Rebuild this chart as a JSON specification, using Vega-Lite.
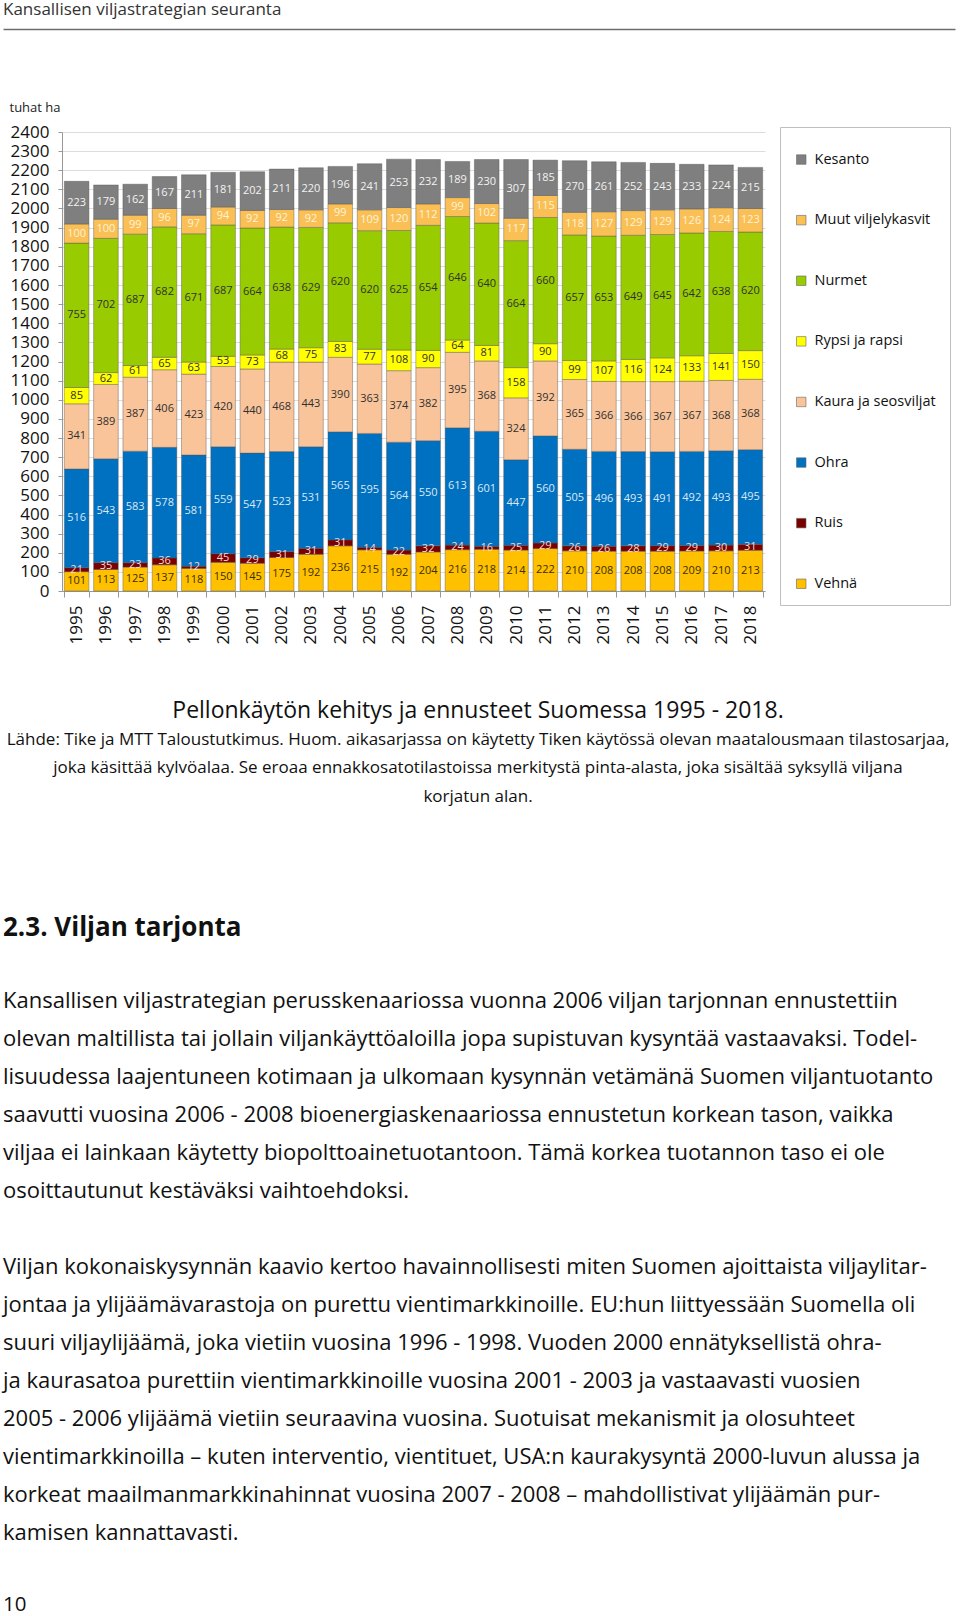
{
  "$schema": "https://vega.github.io/schema/vega-lite/v6.json",
  "background": "#ffffff",
  "padding": {"left": 3, "top": 0, "right": 0, "bottom": 0},
  "autosize": {"type": "pad"},
  "bounds": "flush",
  "spacing": 0,
  "config": {
    "view": {"stroke": null},
    "font": "Open Sans"
  },
  "datasets": {
    "crops": [
      {"year":"1995","crop":"Vehnä","area":101},{"year":"1996","crop":"Vehnä","area":113},{"year":"1997","crop":"Vehnä","area":125},{"year":"1998","crop":"Vehnä","area":137},{"year":"1999","crop":"Vehnä","area":118},{"year":"2000","crop":"Vehnä","area":150},{"year":"2001","crop":"Vehnä","area":145},{"year":"2002","crop":"Vehnä","area":175},{"year":"2003","crop":"Vehnä","area":192},{"year":"2004","crop":"Vehnä","area":236},{"year":"2005","crop":"Vehnä","area":215},{"year":"2006","crop":"Vehnä","area":192},{"year":"2007","crop":"Vehnä","area":204},{"year":"2008","crop":"Vehnä","area":216},{"year":"2009","crop":"Vehnä","area":218},{"year":"2010","crop":"Vehnä","area":214},{"year":"2011","crop":"Vehnä","area":222},{"year":"2012","crop":"Vehnä","area":210},{"year":"2013","crop":"Vehnä","area":208},{"year":"2014","crop":"Vehnä","area":208},{"year":"2015","crop":"Vehnä","area":208},{"year":"2016","crop":"Vehnä","area":209},{"year":"2017","crop":"Vehnä","area":210},{"year":"2018","crop":"Vehnä","area":213},
      {"year":"1995","crop":"Ruis","area":21},{"year":"1996","crop":"Ruis","area":35},{"year":"1997","crop":"Ruis","area":23},{"year":"1998","crop":"Ruis","area":36},{"year":"1999","crop":"Ruis","area":12},{"year":"2000","crop":"Ruis","area":45},{"year":"2001","crop":"Ruis","area":29},{"year":"2002","crop":"Ruis","area":31},{"year":"2003","crop":"Ruis","area":31},{"year":"2004","crop":"Ruis","area":31},{"year":"2005","crop":"Ruis","area":14},{"year":"2006","crop":"Ruis","area":22},{"year":"2007","crop":"Ruis","area":32},{"year":"2008","crop":"Ruis","area":24},{"year":"2009","crop":"Ruis","area":16},{"year":"2010","crop":"Ruis","area":25},{"year":"2011","crop":"Ruis","area":29},{"year":"2012","crop":"Ruis","area":26},{"year":"2013","crop":"Ruis","area":26},{"year":"2014","crop":"Ruis","area":28},{"year":"2015","crop":"Ruis","area":29},{"year":"2016","crop":"Ruis","area":29},{"year":"2017","crop":"Ruis","area":30},{"year":"2018","crop":"Ruis","area":31},
      {"year":"1995","crop":"Ohra","area":516},{"year":"1996","crop":"Ohra","area":543},{"year":"1997","crop":"Ohra","area":583},{"year":"1998","crop":"Ohra","area":578},{"year":"1999","crop":"Ohra","area":581},{"year":"2000","crop":"Ohra","area":559},{"year":"2001","crop":"Ohra","area":547},{"year":"2002","crop":"Ohra","area":523},{"year":"2003","crop":"Ohra","area":531},{"year":"2004","crop":"Ohra","area":565},{"year":"2005","crop":"Ohra","area":595},{"year":"2006","crop":"Ohra","area":564},{"year":"2007","crop":"Ohra","area":550},{"year":"2008","crop":"Ohra","area":613},{"year":"2009","crop":"Ohra","area":601},{"year":"2010","crop":"Ohra","area":447},{"year":"2011","crop":"Ohra","area":560},{"year":"2012","crop":"Ohra","area":505},{"year":"2013","crop":"Ohra","area":496},{"year":"2014","crop":"Ohra","area":493},{"year":"2015","crop":"Ohra","area":491},{"year":"2016","crop":"Ohra","area":492},{"year":"2017","crop":"Ohra","area":493},{"year":"2018","crop":"Ohra","area":495},
      {"year":"1995","crop":"Kaura ja seosviljat","area":341},{"year":"1996","crop":"Kaura ja seosviljat","area":389},{"year":"1997","crop":"Kaura ja seosviljat","area":387},{"year":"1998","crop":"Kaura ja seosviljat","area":406},{"year":"1999","crop":"Kaura ja seosviljat","area":423},{"year":"2000","crop":"Kaura ja seosviljat","area":420},{"year":"2001","crop":"Kaura ja seosviljat","area":440},{"year":"2002","crop":"Kaura ja seosviljat","area":468},{"year":"2003","crop":"Kaura ja seosviljat","area":443},{"year":"2004","crop":"Kaura ja seosviljat","area":390},{"year":"2005","crop":"Kaura ja seosviljat","area":363},{"year":"2006","crop":"Kaura ja seosviljat","area":374},{"year":"2007","crop":"Kaura ja seosviljat","area":382},{"year":"2008","crop":"Kaura ja seosviljat","area":395},{"year":"2009","crop":"Kaura ja seosviljat","area":368},{"year":"2010","crop":"Kaura ja seosviljat","area":324},{"year":"2011","crop":"Kaura ja seosviljat","area":392},{"year":"2012","crop":"Kaura ja seosviljat","area":365},{"year":"2013","crop":"Kaura ja seosviljat","area":366},{"year":"2014","crop":"Kaura ja seosviljat","area":366},{"year":"2015","crop":"Kaura ja seosviljat","area":367},{"year":"2016","crop":"Kaura ja seosviljat","area":367},{"year":"2017","crop":"Kaura ja seosviljat","area":368},{"year":"2018","crop":"Kaura ja seosviljat","area":368},
      {"year":"1995","crop":"Rypsi ja rapsi","area":85},{"year":"1996","crop":"Rypsi ja rapsi","area":62},{"year":"1997","crop":"Rypsi ja rapsi","area":61},{"year":"1998","crop":"Rypsi ja rapsi","area":65},{"year":"1999","crop":"Rypsi ja rapsi","area":63},{"year":"2000","crop":"Rypsi ja rapsi","area":53},{"year":"2001","crop":"Rypsi ja rapsi","area":73},{"year":"2002","crop":"Rypsi ja rapsi","area":68},{"year":"2003","crop":"Rypsi ja rapsi","area":75},{"year":"2004","crop":"Rypsi ja rapsi","area":83},{"year":"2005","crop":"Rypsi ja rapsi","area":77},{"year":"2006","crop":"Rypsi ja rapsi","area":108},{"year":"2007","crop":"Rypsi ja rapsi","area":90},{"year":"2008","crop":"Rypsi ja rapsi","area":64},{"year":"2009","crop":"Rypsi ja rapsi","area":81},{"year":"2010","crop":"Rypsi ja rapsi","area":158},{"year":"2011","crop":"Rypsi ja rapsi","area":90},{"year":"2012","crop":"Rypsi ja rapsi","area":99},{"year":"2013","crop":"Rypsi ja rapsi","area":107},{"year":"2014","crop":"Rypsi ja rapsi","area":116},{"year":"2015","crop":"Rypsi ja rapsi","area":124},{"year":"2016","crop":"Rypsi ja rapsi","area":133},{"year":"2017","crop":"Rypsi ja rapsi","area":141},{"year":"2018","crop":"Rypsi ja rapsi","area":150},
      {"year":"1995","crop":"Nurmet","area":755},{"year":"1996","crop":"Nurmet","area":702},{"year":"1997","crop":"Nurmet","area":687},{"year":"1998","crop":"Nurmet","area":682},{"year":"1999","crop":"Nurmet","area":671},{"year":"2000","crop":"Nurmet","area":687},{"year":"2001","crop":"Nurmet","area":664},{"year":"2002","crop":"Nurmet","area":638},{"year":"2003","crop":"Nurmet","area":629},{"year":"2004","crop":"Nurmet","area":620},{"year":"2005","crop":"Nurmet","area":620},{"year":"2006","crop":"Nurmet","area":625},{"year":"2007","crop":"Nurmet","area":654},{"year":"2008","crop":"Nurmet","area":646},{"year":"2009","crop":"Nurmet","area":640},{"year":"2010","crop":"Nurmet","area":664},{"year":"2011","crop":"Nurmet","area":660},{"year":"2012","crop":"Nurmet","area":657},{"year":"2013","crop":"Nurmet","area":653},{"year":"2014","crop":"Nurmet","area":649},{"year":"2015","crop":"Nurmet","area":645},{"year":"2016","crop":"Nurmet","area":642},{"year":"2017","crop":"Nurmet","area":638},{"year":"2018","crop":"Nurmet","area":620},
      {"year":"1995","crop":"Muut viljelykasvit","area":100},{"year":"1996","crop":"Muut viljelykasvit","area":100},{"year":"1997","crop":"Muut viljelykasvit","area":99},{"year":"1998","crop":"Muut viljelykasvit","area":96},{"year":"1999","crop":"Muut viljelykasvit","area":97},{"year":"2000","crop":"Muut viljelykasvit","area":94},{"year":"2001","crop":"Muut viljelykasvit","area":92},{"year":"2002","crop":"Muut viljelykasvit","area":92},{"year":"2003","crop":"Muut viljelykasvit","area":92},{"year":"2004","crop":"Muut viljelykasvit","area":99},{"year":"2005","crop":"Muut viljelykasvit","area":109},{"year":"2006","crop":"Muut viljelykasvit","area":120},{"year":"2007","crop":"Muut viljelykasvit","area":112},{"year":"2008","crop":"Muut viljelykasvit","area":99},{"year":"2009","crop":"Muut viljelykasvit","area":102},{"year":"2010","crop":"Muut viljelykasvit","area":117},{"year":"2011","crop":"Muut viljelykasvit","area":115},{"year":"2012","crop":"Muut viljelykasvit","area":118},{"year":"2013","crop":"Muut viljelykasvit","area":127},{"year":"2014","crop":"Muut viljelykasvit","area":129},{"year":"2015","crop":"Muut viljelykasvit","area":129},{"year":"2016","crop":"Muut viljelykasvit","area":126},{"year":"2017","crop":"Muut viljelykasvit","area":124},{"year":"2018","crop":"Muut viljelykasvit","area":123},
      {"year":"1995","crop":"Kesanto","area":223},{"year":"1996","crop":"Kesanto","area":179},{"year":"1997","crop":"Kesanto","area":162},{"year":"1998","crop":"Kesanto","area":167},{"year":"1999","crop":"Kesanto","area":211},{"year":"2000","crop":"Kesanto","area":181},{"year":"2001","crop":"Kesanto","area":202},{"year":"2002","crop":"Kesanto","area":211},{"year":"2003","crop":"Kesanto","area":220},{"year":"2004","crop":"Kesanto","area":196},{"year":"2005","crop":"Kesanto","area":241},{"year":"2006","crop":"Kesanto","area":253},{"year":"2007","crop":"Kesanto","area":232},{"year":"2008","crop":"Kesanto","area":189},{"year":"2009","crop":"Kesanto","area":230},{"year":"2010","crop":"Kesanto","area":307},{"year":"2011","crop":"Kesanto","area":185},{"year":"2012","crop":"Kesanto","area":270},{"year":"2013","crop":"Kesanto","area":261},{"year":"2014","crop":"Kesanto","area":252},{"year":"2015","crop":"Kesanto","area":243},{"year":"2016","crop":"Kesanto","area":233},{"year":"2017","crop":"Kesanto","area":224},{"year":"2018","crop":"Kesanto","area":215}
    ],
    "header": [{"text": "Kansallisen viljastrategian seuranta"}],
    "caption": [
      {"line": 1, "text": "Pellonkäytön kehitys ja ennusteet Suomessa 1995 - 2018."},
      {"line": 2, "text": "Lähde: Tike ja MTT Taloustutkimus. Huom. aikasarjassa on käytetty Tiken käytössä olevan maatalousmaan tilastosarjaa,"},
      {"line": 3, "text": "joka käsittää kylvöalaa. Se eroaa ennakkosatotilastoissa merkitystä pinta-alasta, joka sisältää syksyllä viljana"},
      {"line": 4, "text": "korjatun alan."}
    ],
    "heading": [{"text": "2.3. Viljan tarjonta"}],
    "para1": [
      {"line": 1, "text": "Kansallisen viljastrategian perusskenaariossa vuonna 2006 viljan tarjonnan ennustettiin"},
      {"line": 2, "text": "olevan maltillista tai jollain viljankäyttöaloilla jopa supistuvan kysyntää vastaavaksi. Todel-"},
      {"line": 3, "text": "lisuudessa laajentuneen kotimaan ja ulkomaan kysynnän vetämänä Suomen viljantuotanto"},
      {"line": 4, "text": "saavutti vuosina 2006 - 2008 bioenergiaskenaariossa ennustetun korkean tason, vaikka"},
      {"line": 5, "text": "viljaa ei lainkaan käytetty biopolttoainetuotantoon. Tämä korkea tuotannon taso ei ole"},
      {"line": 6, "text": "osoittautunut kestäväksi vaihtoehdoksi."}
    ],
    "para2": [
      {"line": 1, "text": "Viljan kokonaiskysynnän kaavio kertoo havainnollisesti miten Suomen ajoittaista viljaylitar-"},
      {"line": 2, "text": "jontaa ja ylijäämävarastoja on purettu vientimarkkinoille. EU:hun liittyessään Suomella oli"},
      {"line": 3, "text": "suuri viljaylijäämä, joka vietiin vuosina 1996 - 1998. Vuoden 2000 ennätyksellistä ohra-"},
      {"line": 4, "text": "ja kaurasatoa purettiin vientimarkkinoille vuosina 2001 - 2003 ja vastaavasti vuosien"},
      {"line": 5, "text": "2005 - 2006 ylijäämä vietiin seuraavina vuosina. Suotuisat mekanismit ja olosuhteet"},
      {"line": 6, "text": "vientimarkkinoilla – kuten interventio, vientituet, USA:n kaurakysyntä 2000-luvun alussa ja"},
      {"line": 7, "text": "korkeat maailmanmarkkinahinnat vuosina 2007 - 2008 – mahdollistivat ylijäämän pur-"},
      {"line": 8, "text": "kamisen kannattavasti."}
    ],
    "page": [{"text": "10"}]
  },
  "vconcat": [
    {
      "width": 893, "height": 29,
      "data": {"name": "header"},
      "mark": {"type": "text", "align": "left", "baseline": "alphabetic", "fontSize": 17, "color": "#333333"},
      "encoding": {
        "x": {"datum": 0, "type": "quantitative", "scale": {"domain": [0, 1], "range": [-59, 893]},
              "axis": {"orient": "bottom", "domain": true, "ticks": false, "labels": false, "grid": false, "title": null, "domainColor": "#6e6e6e", "domainWidth": 1.5}},
        "text": {"field": "text"}
      }
    },
    {"width": 10, "height": 103, "data": {"values": []}, "mark": "point"},
    {
      "width": 703, "height": 459,
      "data": {"name": "crops"},
      "transform": [
        {"calculate": "indexof(['Vehnä', 'Ruis', 'Ohra', 'Kaura ja seosviljat', 'Rypsi ja rapsi', 'Nurmet', 'Muut viljelykasvit', 'Kesanto'], datum.crop)", "as": "stack_rank"}
      ],
      "layer": [
        {
          "mark": {"type": "bar", "stroke": "#555555", "strokeWidth": 0.6, "strokeOpacity": 0.7},
          "encoding": {
            "x": {"field": "year", "type": "ordinal",
                  "scale": {"paddingInner": 0.16, "paddingOuter": 0.08},
                  "axis": {"title": null, "labelAngle": 270, "labelAlign": "right", "labelBaseline": "middle",
                           "labelFontSize": 17, "labelColor": "#111111", "tickBand": "extent", "tickSize": 6,
                           "tickColor": "#999999", "domainColor": "#999999", "labelPadding": 8, "labelOverlap": false}},
            "y": {"field": "area", "type": "quantitative", "stack": "zero",
                  "scale": {"domain": [0, 2400], "nice": false},
                  "axis": {"values": [0,100,200,300,400,500,600,700,800,900,1000,1100,1200,1300,1400,1500,1600,1700,1800,1900,2000,2100,2200,2300,2400],
                           "format": "d",
                           "title": "tuhat ha", "titleAngle": 0, "titleAlign": "left", "titleBaseline": "middle",
                           "titleX": -53, "titleY": -25, "titleFontSize": 13, "titleFontWeight": "normal", "titleColor": "#222222",
                           "labelFontSize": 17, "labelColor": "#111111", "labelPadding": 9, "labelOverlap": false,
                           "tickSize": 4, "tickColor": "#999999", "domainColor": "#999999", "gridColor": "#dcdcdc"}},
            "order": {"field": "stack_rank", "type": "quantitative"},
            "color": {"field": "crop", "type": "nominal",
                      "scale": {"domain": ["Kesanto", "Muut viljelykasvit", "Nurmet", "Rypsi ja rapsi", "Kaura ja seosviljat", "Ohra", "Ruis", "Vehnä"],
                                "range": ["#7f7f7f", "#fac055", "#99cc00", "#ffff00", "#f9c49a", "#0070c0", "#7b0000", "#ffc000"]},
                      "legend": {"orient": "none", "legendX": 718, "legendY": -5, "title": " ", "titleFontSize": 9, "titlePadding": 2.3,
                                 "padding": 14, "strokeColor": "#bfbfbf", "fillColor": "#ffffff",
                                 "symbolType": "square", "symbolSize": 90, "symbolStrokeWidth": 0.6, "symbolStrokeColor": "#666666",
                                 "labelFontSize": 14.5, "labelColor": "#111111", "rowPadding": 45.6, "labelOffset": 6}}
          }
        },
        {
          "mark": {"type": "text", "fontSize": 11, "baseline": "middle"},
          "encoding": {
            "x": {"field": "year", "type": "ordinal",
                  "axis": {"title": null, "labelAngle": 270, "labelAlign": "right", "labelBaseline": "middle",
                           "labelFontSize": 17, "labelColor": "#111111", "tickBand": "extent", "tickSize": 6,
                           "tickColor": "#999999", "domainColor": "#999999", "labelPadding": 8, "labelOverlap": false}},
            "y": {"field": "area", "type": "quantitative", "stack": "zero", "bandPosition": 0.5,
                  "axis": {"values": [0,100,200,300,400,500,600,700,800,900,1000,1100,1200,1300,1400,1500,1600,1700,1800,1900,2000,2100,2200,2300,2400],
                           "format": "d",
                           "title": "tuhat ha", "titleAngle": 0, "titleAlign": "left", "titleBaseline": "middle",
                           "titleX": -53, "titleY": -25, "titleFontSize": 13, "titleFontWeight": "normal", "titleColor": "#222222",
                           "labelFontSize": 17, "labelColor": "#111111", "labelPadding": 9, "labelOverlap": false,
                           "tickSize": 4, "tickColor": "#999999", "domainColor": "#999999", "gridColor": "#dcdcdc"}},
            "order": {"field": "stack_rank", "type": "quantitative"},
            "text": {"field": "area"},
            "color": {"field": "crop", "type": "nominal",
                      "scale": {"domain": ["Kesanto", "Muut viljelykasvit", "Nurmet", "Rypsi ja rapsi", "Kaura ja seosviljat", "Ohra", "Ruis", "Vehnä"],
                                "range": ["#f2f2f2", "#fdf3dc", "#303030", "#303030", "#303030", "#dce8f5", "#f3d7d7", "#3b2f00"]},
                      "legend": null}
          }
        }
      ],
      "resolve": {"scale": {"color": "independent"}}
    },
    {"width": 10, "height": 106, "data": {"values": []}, "mark": "point"},
    {
      "width": 832, "height": 114,
      "data": {"name": "caption"},
      "mark": {"type": "text", "align": "center", "baseline": "middle", "color": "#111111"},
      "encoding": {
        "x": {"datum": 0.5, "type": "quantitative", "scale": {"domain": [0, 1], "range": [-59, 891]}, "axis": null},
        "y": {"field": "line", "type": "ordinal", "axis": null},
        "text": {"field": "text"},
        "size": {"condition": {"test": "datum.line === 1", "value": 23}, "value": 17}
      }
    },
    {"width": 10, "height": 98, "data": {"values": []}, "mark": "point"},
    {
      "width": 832, "height": 38,
      "data": {"name": "heading"},
      "mark": {"type": "text", "align": "left", "baseline": "middle", "fontSize": 26, "fontWeight": "bold", "color": "#111111"},
      "encoding": {
        "x": {"datum": 0, "type": "quantitative", "scale": {"domain": [0, 1], "range": [-59, 891]}, "axis": null},
        "text": {"field": "text"}
      }
    },
    {"width": 10, "height": 35, "data": {"values": []}, "mark": "point"},
    {
      "width": 832, "height": 228,
      "data": {"name": "para1"},
      "mark": {"type": "text", "align": "left", "baseline": "middle", "fontSize": 22, "color": "#111111", "limit": 955},
      "encoding": {
        "x": {"datum": 0, "type": "quantitative", "scale": {"domain": [0, 1], "range": [-59, 891]}, "axis": null},
        "y": {"field": "line", "type": "ordinal", "axis": null},
        "text": {"field": "text"}
      }
    },
    {"width": 10, "height": 38, "data": {"values": []}, "mark": "point"},
    {
      "width": 832, "height": 304,
      "data": {"name": "para2"},
      "mark": {"type": "text", "align": "left", "baseline": "middle", "fontSize": 22, "color": "#111111", "limit": 955},
      "encoding": {
        "x": {"datum": 0, "type": "quantitative", "scale": {"domain": [0, 1], "range": [-59, 891]}, "axis": null},
        "y": {"field": "line", "type": "ordinal", "axis": null},
        "text": {"field": "text"}
      }
    },
    {"width": 10, "height": 43, "data": {"values": []}, "mark": "point"},
    {
      "width": 832, "height": 20,
      "data": {"name": "page"},
      "mark": {"type": "text", "align": "left", "baseline": "middle", "fontSize": 20.5, "color": "#111111"},
      "encoding": {
        "x": {"datum": 0, "type": "quantitative", "scale": {"domain": [0, 1], "range": [-59, 891]}, "axis": null},
        "text": {"field": "text"}
      }
    }
  ]
}
